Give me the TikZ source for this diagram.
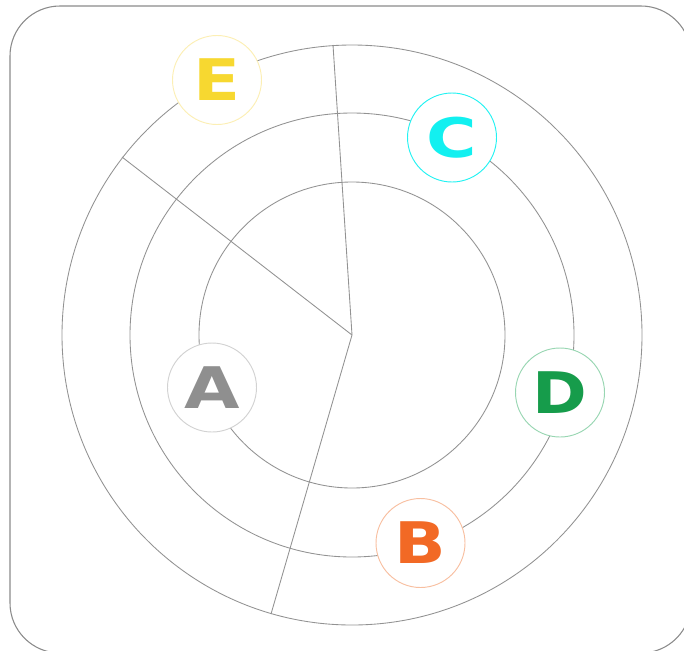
\documentclass[tikz,border=0pt]{standalone}
\usepackage{fontspec}
\newfontfamily\badgefont{DejaVu Sans}
\usetikzlibrary{positioning}

\definecolor{ringgray}{HTML}{929292}
\definecolor{framegray}{HTML}{8A8A8A}
\definecolor{eyellow}{HTML}{F7D830}
\definecolor{eyellowline}{HTML}{FCEFB4}
\definecolor{ccyan}{HTML}{12F0F0}
\definecolor{ccyanline}{HTML}{22F2F2}
\definecolor{dgreen}{HTML}{169C4B}
\definecolor{dgreenline}{HTML}{98D6B2}
\definecolor{agray}{HTML}{8F8F8F}
\definecolor{agrayline}{HTML}{D2D2D2}
\definecolor{borange}{HTML}{F26925}
\definecolor{borangeline}{HTML}{F8BFA0}

\begin{document}
\begin{tikzpicture}[x=0.75pt,y=-0.75pt,
  ring/.style={draw=ringgray, line width=0.65pt},
  spoke/.style={draw=ringgray, line width=0.65pt},
  badge/.style args={#1/#2}{circle, minimum size=66.75pt, inner sep=0pt,
    fill=white, draw=#1, line width=0.7pt, text=#2,
    font=\badgefont\bfseries\fontsize{43}{43}\selectfont}]
\useasboundingbox (0,0) rectangle (684,650);

% frame
\draw[framegray, line width=0.8pt, rounded corners=37.5pt] (10,6) rectangle (691,653);

% rings
\coordinate (O) at (352,335);
\draw[ring] (O) circle[radius=153];
\draw[ring] (O) circle[radius=222];
\draw[ring] (O) circle[radius=290];

% spokes
\coordinate (top) at (333,45);
\coordinate (left) at (122,157);
\coordinate (bottom) at (271,614);
\draw[spoke] (O) -- (top);
\draw[spoke] (O) -- (left);
\draw[spoke] (O) -- (bottom);

% badges
\node[badge=eyellowline/eyellow] (E) at (217,80) {\scalebox{1.2}[1]{E}};
\node[badge=ccyanline/ccyan] (C) at (452,137.5) {\scalebox{1.2}[0.95]{C}};
\node[badge=dgreenline/dgreen] (D) at (560,392.5) {\scalebox{1.15}[1]{D}};
\node[badge=agrayline/agray] (A) at (212,387.5) {\scalebox{1.25}[1]{A}};
\node[badge=borangeline/borange] (B) at (420.5,543) {\scalebox{1.18}[1]{B}};
\end{tikzpicture}
\end{document}
